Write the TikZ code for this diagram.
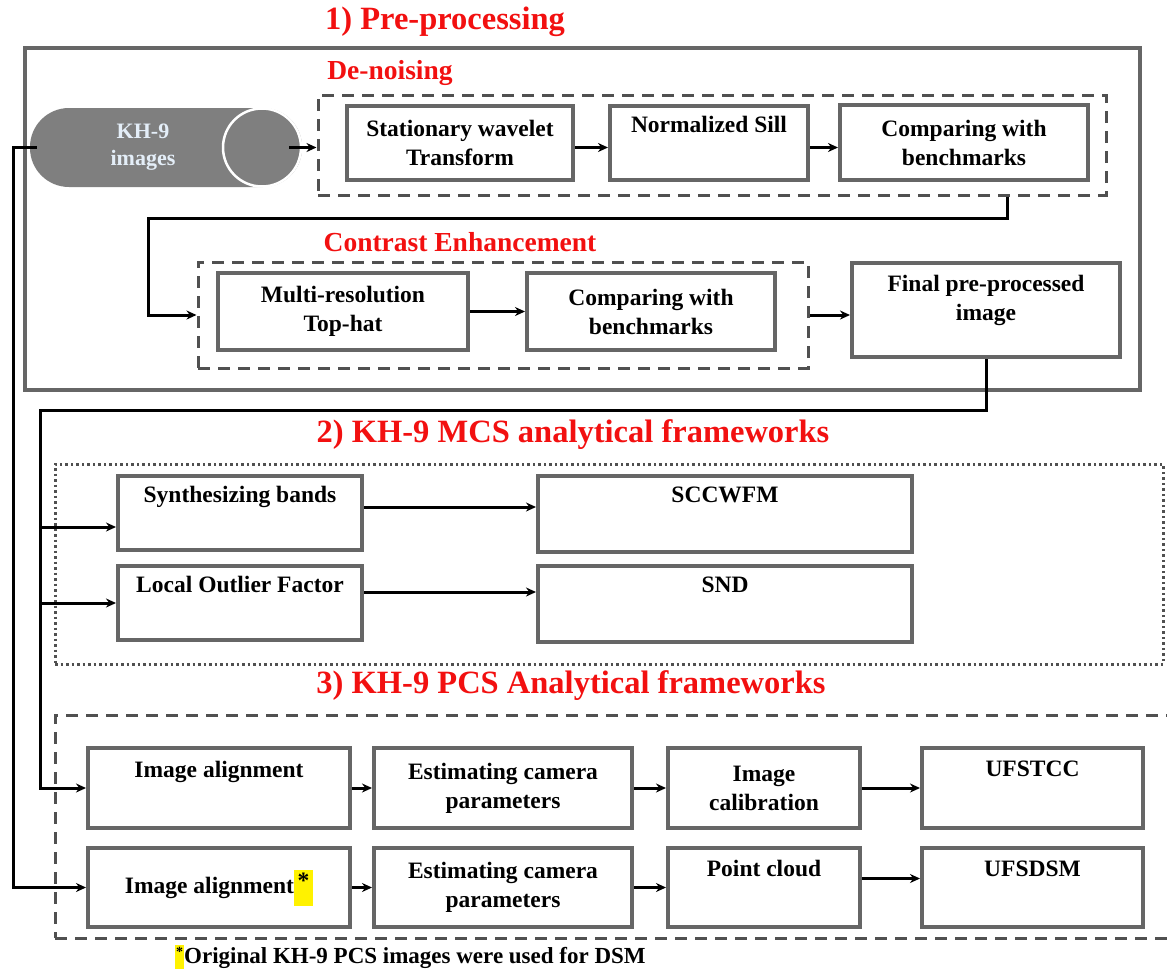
\documentclass[tikz,border=0pt]{standalone}
\usepackage{fontspec}
\setmainfont{Liberation Serif}
\usetikzlibrary{arrows.meta}
\definecolor{boxgray}{HTML}{666666}
\definecolor{dashgray}{HTML}{505050}
\definecolor{pillgray}{HTML}{7F7F7F}
\definecolor{pilltext}{HTML}{E4EEF8}
\definecolor{titlered}{HTML}{F21010}
\newcommand\hlstar{{\setlength{\fboxsep}{0pt}\colorbox{yellow}{\raisebox{0pt}[24pt][12pt]{\makebox[19pt]{\raisebox{5pt}{*}}}}}}
\newcommand\fnstar{{\setlength{\fboxsep}{0pt}\colorbox{yellow}{\raisebox{0pt}[18pt][6pt]{\makebox[9pt]{\raisebox{7pt}{\fontsize{14}{14}\selectfont *}}}}}}
\begin{document}
\begin{tikzpicture}[x=1pt,y=-1pt,
  box/.style={draw=boxgray, line width=4pt, fill=white, align=center, inner sep=0pt,
    font=\bfseries\fontsize{23.5}{29}\selectfont},
  grp/.style={draw=dashgray, line width=3pt, dash pattern=on 12pt off 8pt},
  dotgrp/.style={draw=dashgray, line width=3pt, dash pattern=on 2.5pt off 3pt},
  ttl/.style={text=titlered, font=\bfseries\fontsize{32.5}{36}\selectfont},
  sub/.style={text=titlered, font=\bfseries\fontsize{27.5}{32}\selectfont},
  arr/.style={draw=black, line width=3pt, -{Stealth[length=10pt,width=9pt]}},
  ln/.style={draw=black, line width=3pt}
]
\useasboundingbox (0,0) rectangle (1167,972);

% ---------- 1) pre-processing ----------
\node[ttl] (t1) at (445,22) {1) Pre-processing};
\draw[draw=boxgray, line width=4.5pt] (25,48) rectangle (1140,390);
\node[sub] (tden) at (390,73) {De-noising};
\node[grp, minimum width=788, minimum height=100, inner sep=0pt] (den) at (712,145) {};
\node[sub] (tce) at (460,242) {Contrast Enhancement};
\node[grp, minimum width=610, minimum height=106, inner sep=0pt] (ce) at (503,315) {};

% KH-9 pill
\node[fill=pillgray, rounded corners=39pt, minimum width=272, minimum height=79, inner sep=0pt] (pill) at (166,147.5) {};
\node[circle, fill=pillgray, draw=white, line width=2.5pt, minimum size=78, inner sep=0pt] (pc) at (262,147.5) {};
\node[text=pilltext, align=center, font=\bfseries\fontsize{22}{27}\selectfont] (pt) at (143,147) {KH-9\\images};

\node[box, minimum width=226, minimum height=74] (swt) at (460,143) {Stationary wavelet\\Transform};
\node[box, minimum width=198, minimum height=74] (ns) at (709,143) {Normalized Sill\\\strut};
\node[box, minimum width=248, minimum height=75] (cmp1) at (964,142.5) {Comparing with\\benchmarks};
\node[box, minimum width=250, minimum height=77] (mr) at (343,311.5) {Multi-resolution\\Top-hat};
\node[box, minimum width=248, minimum height=77] (cmp2) at (651,311.5) {Comparing with\\benchmarks};
\node[box, minimum width=268, minimum height=94] (fin) at (986,310) {Final pre-processed\\image\\[-13pt]\strut};

\draw[arr] ([xshift=-13pt]pill.east) -- (den.west |- pill.east);
\draw[arr] (swt.east |- pill.east) -- (ns.west |- pill.east);
\draw[arr] (ns.east |- pill.east) -- (cmp1.west |- pill.east);
\coordinate (dx) at (1007,0);
\coordinate (ly) at (148,218);
\draw[arr] (den.south -| dx) |- (ly) |- (ce.west);
\draw[arr] (mr.east) -- (cmp2.west);
\draw[arr] (ce.east) -- (ce.east -| fin.west);

% ---------- 2) MCS ----------
\node[ttl] (t2) at (573,435) {2) KH-9 MCS analytical frameworks};
\node[dotgrp, minimum width=1108, minimum height=200, inner sep=0pt] (mcs) at (609,564) {};
\node[box, minimum width=244, minimum height=74] (syn) at (240,513) {Synthesizing bands\\\strut};
\node[box, minimum width=374, minimum height=76] (scc) at (725,514) {SCCWFM\\\strut};
\node[box, minimum width=244, minimum height=74] (lof) at (240,603) {Local Outlier Factor\\\strut};
\node[box, minimum width=374, minimum height=76] (snd) at (725,604) {SND\\\strut};
\draw[arr] ([yshift=6pt]syn.east) -- ([yshift=6pt]syn.east -| scc.west);
\draw[arr] ([yshift=11pt]lof.east) -- ([yshift=11pt]lof.east -| snd.west);

% ---------- 3) PCS ----------
\node[ttl] (t3) at (571,686) {3) KH-9 PCS Analytical frameworks};
\node[grp, minimum width=1120, minimum height=223, inner sep=0pt] (pcs) at (615,826.5) {};
\node[box, minimum width=262, minimum height=80] (ia1) at (219,788) {Image alignment\\\strut};
\node[box, minimum width=258, minimum height=80] (es1) at (503,788) {Estimating camera\\parameters};
\node[box, minimum width=192, minimum height=80] (cal) at (764,788) {Image\\calibration};
\node[box, minimum width=221, minimum height=80] (ufc) at (1032.5,788) {UFSTCC\\\strut};
\node[box, minimum width=262, minimum height=79] (ia2) at (219,887.5) {Image alignment\hlstar};
\node[box, minimum width=258, minimum height=79] (es2) at (503,887.5) {Estimating camera\\parameters};
\node[box, minimum width=192, minimum height=79] (pcl) at (764,887.5) {Point cloud\\\strut};
\node[box, minimum width=221, minimum height=79] (ufd) at (1032.5,887.5) {UFSDSM\\\strut};
\draw[arr] (ia1.east) -- (es1.west);
\draw[arr] (es1.east) -- (cal.west);
\draw[arr] (cal.east) -- (ufc.west);
\draw[arr] (ia2.east) -- (es2.west);
\draw[arr] (es2.east) -- (pcl.west);
\draw[arr] ([yshift=9pt]pcl.east) -- ([yshift=9pt]pcl.east -| ufd.west);

\node[anchor=west, inner sep=0pt, font=\bfseries\fontsize{23}{26}\selectfont] (fn) at (175,957) {\fnstar Original KH-9 PCS images were used for DSM};

% ---------- long connectors ----------
\coordinate (tk) at (40,410);
\draw[arr] (fin.south) |- (tk) |- (ia1.west);
\coordinate (b1) at (40,527);
\coordinate (b2) at (40,603);
\draw[arr] (b1) -- (b1 -| syn.west);
\draw[arr] (b2) -- (b2 -| lof.west);
\coordinate (lx) at (13,0);
\draw[arr] ([xshift=7pt]pill.west) -| (lx |- ia2.west) -- (ia2.west);
\end{tikzpicture}
\end{document}
